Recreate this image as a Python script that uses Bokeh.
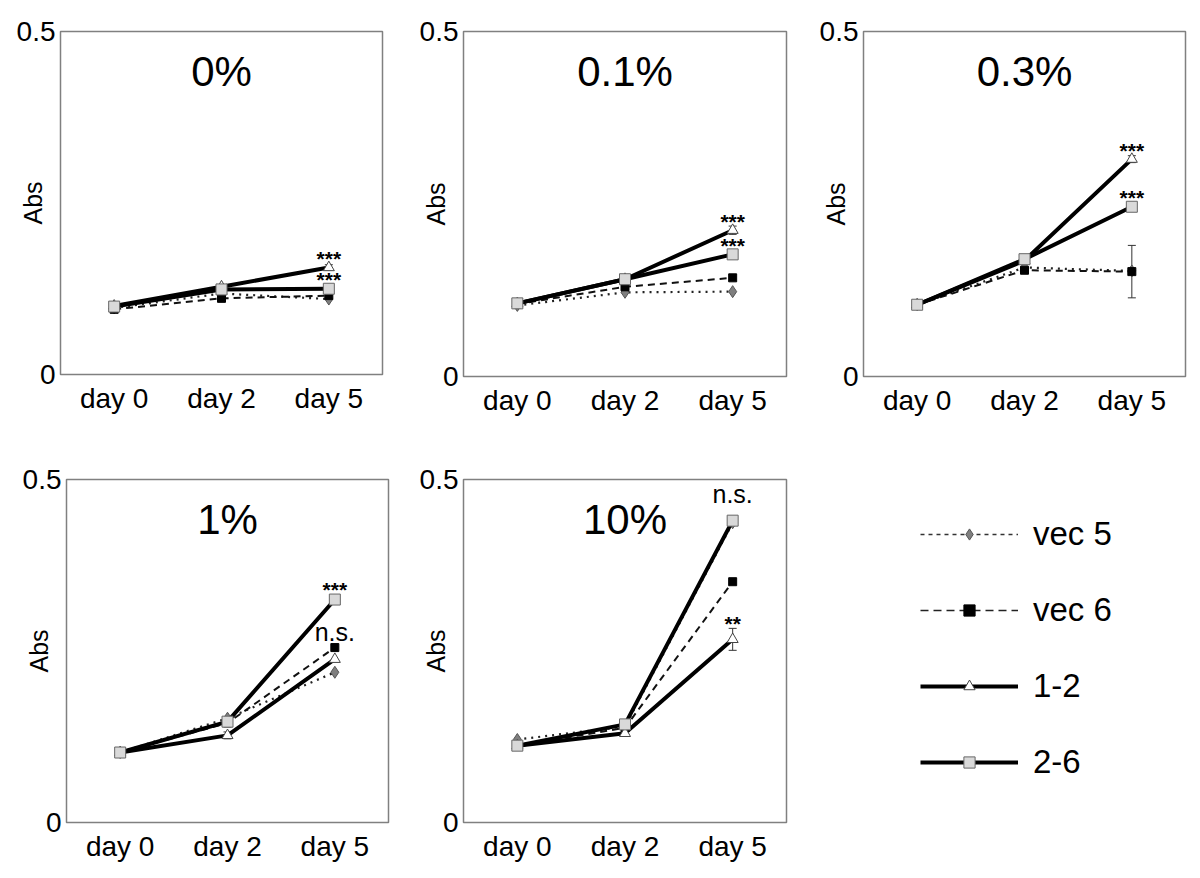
import numpy as np
from bokeh.plotting import figure
from bokeh.models import (FactorRange, Range1d, FixedTicker, Label, ColumnDataSource,
                          Whisker, TeeHead, Legend, LegendItem)
from bokeh.layouts import row, column
from bokeh.embed import file_html
from bokeh.resources import INLINE
from bokeh.core.properties import value

# ---------------- data ----------------
DAYS = ["day 0", "day 2", "day 5"]
PANELS = ["0%", "0.1%", "0.3%", "1%", "10%"]
SERIES = ["vec 5", "vec 6", "1-2", "2-6"]
Y_TICKS = [0, 0.5]
Y_TICK_LABELS = ["0", "0.5"]
Y_LABEL = "Abs"

# values per panel (rows) and day (columns)
VEC5 = [[0.097, 0.118, 0.110],
        [0.103, 0.122, 0.123],
        [0.104, 0.158, 0.153],
        [0.102, 0.152, 0.219],
        [0.121, 0.140, 0.437]]
VEC6 = [[0.095, 0.111, 0.115],
        [0.105, 0.130, 0.143],
        [0.104, 0.154, 0.152],
        [0.102, 0.145, 0.255],
        [0.112, 0.138, 0.351]]
L12 = [[0.100, 0.128, 0.156],
       [0.106, 0.141, 0.212],
       [0.104, 0.168, 0.315],
       [0.102, 0.127, 0.238],
       [0.112, 0.130, 0.267]]
L26 = [[0.099, 0.124, 0.125],
       [0.106, 0.141, 0.177],
       [0.104, 0.170, 0.246],
       [0.102, 0.147, 0.325],
       [0.112, 0.143, 0.440]]

ERR_VEC5 = [[0, 0, 0], [0, 0, 0], [0, 0, 0], [0, 0, 0], [0, 0, 0]]
ERR_VEC6 = [[0, 0, 0], [0, 0, 0], [0, 0, 0.038], [0, 0, 0], [0, 0, 0]]
ERR_L12 = [[0, 0, 0.004], [0, 0, 0.006], [0, 0, 0.005], [0, 0.005, 0], [0, 0, 0.016]]
ERR_L26 = [[0, 0, 0], [0, 0, 0], [0, 0, 0], [0, 0, 0.005], [0, 0, 0]]

# significance labels at day 5: (panel, series, text)
ANNOT_PANEL = [0, 0, 1, 1, 2, 2, 3, 3, 4, 4]
ANNOT_SERIES = ["1-2", "2-6", "1-2", "2-6", "1-2", "2-6", "2-6", "vec 6", "2-6", "1-2"]
ANNOT_TEXT = ["***", "***", "***", "***", "***", "***", "***", "n.s.", "n.s.", "**"]

VALUES = {"vec 5": VEC5, "vec 6": VEC6, "1-2": L12, "2-6": L26}
ERRORS = {"vec 5": ERR_VEC5, "vec 6": ERR_VEC6, "1-2": ERR_L12, "2-6": ERR_L26}

# ---------------- styles ----------------
FONT = "Liberation Sans"
LINE_STYLE = {
    "vec 5": dict(line_color="#222222", line_width=2.2, line_dash="2 5"),
    "vec 6": dict(line_color="#111111", line_width=2, line_dash="7 5"),
    "1-2": dict(line_color="black", line_width=4),
    "2-6": dict(line_color="black", line_width=4),
}
LEG_LINE_STYLE = {
    "vec 5": dict(line_color="#333333", line_width=1.5, line_dash="4 4"),
    "vec 6": dict(line_color="#222222", line_width=1.5, line_dash="8 5"),
    "1-2": dict(line_color="black", line_width=4),
    "2-6": dict(line_color="black", line_width=4),
}
MARKER_STYLE = {
    "vec 5": dict(marker="diamond", size=12, fill_color="#7f7f7f", line_color="#555555", line_width=1),
    "vec 6": dict(marker="square", size=8, fill_color="black", line_color="black", line_width=1),
    "1-2": dict(marker="triangle", size=11, fill_color="white", line_color="#444444", line_width=1),
    "2-6": dict(marker="square", size=11, fill_color="#d9d9d9", line_color="#666666", line_width=1),
}
# figure geometry: borders and frame sizes
GEOM = [
    dict(left=60, right=26, top=31, bottom=66, fw=322, fh=343),
    dict(left=55, right=22, top=29, bottom=66, fw=323, fh=345),
    dict(left=55, right=7, top=29, bottom=66, fw=322, fh=345),
    dict(left=66, right=20, top=39, bottom=48, fw=322, fh=343),
    dict(left=55, right=22, top=35, bottom=52, fw=323, fh=343),
]
ANNOT_DY = [-9, -9, -9, -9, -9, -9, -10, -16, -27, -16]


def make_panel(i):
    g = GEOM[i]
    p = figure(x_range=FactorRange(*DAYS, range_padding=0), y_range=Range1d(0, 0.5),
               frame_width=g["fw"], frame_height=g["fh"],
               min_border_left=g["left"], min_border_right=g["right"],
               min_border_top=g["top"], min_border_bottom=g["bottom"],
               output_backend="svg", toolbar_location=None, title=None)
    p.grid.visible = False
    p.outline_line_color = "#808080"
    p.outline_line_width = 1.5
    p.background_fill_color = "white"
    p.border_fill_color = "white"

    xa = p.xaxis[0]
    xa.axis_line_color = None
    xa.major_tick_line_color = None
    xa.minor_tick_line_color = None
    xa.major_tick_out = 0
    xa.major_tick_in = 0
    xa.major_label_standoff = 8
    xa.major_label_text_font = FONT
    xa.major_label_text_font_size = "28px"
    xa.major_label_text_color = "black"

    ya = p.yaxis[0]
    ya.ticker = FixedTicker(ticks=Y_TICKS)
    ya.major_label_overrides = {t: s for t, s in zip(Y_TICKS, Y_TICK_LABELS)}
    ya.axis_line_color = None
    ya.major_tick_line_color = None
    ya.minor_tick_line_color = None
    ya.major_tick_out = 0
    ya.major_tick_in = 0
    ya.major_label_standoff = 5
    ya.major_label_text_font = FONT
    ya.major_label_text_font_size = "28px"
    ya.major_label_text_color = "black"
    ya.axis_label = Y_LABEL
    ya.axis_label_standoff = -33
    ya.axis_label_text_font = FONT
    ya.axis_label_text_font_size = "25px"
    ya.axis_label_text_font_style = "normal"
    ya.axis_label_text_color = "black"

    for s in SERIES:
        src = ColumnDataSource(dict(x=DAYS, y=VALUES[s][i]))
        p.line("x", "y", source=src, **LINE_STYLE[s])
        errs = ERRORS[s][i]
        idx = [k for k in range(len(DAYS)) if errs[k] > 0]
        if idx:
            wsrc = ColumnDataSource(dict(
                x=[DAYS[k] for k in idx],
                upper=[VALUES[s][i][k] + errs[k] for k in idx],
                lower=[VALUES[s][i][k] - errs[k] for k in idx]))
            w = Whisker(base="x", upper="upper", lower="lower", source=wsrc,
                        line_color="#333333", line_width=1,
                        upper_head=TeeHead(size=8, line_color="#333333", line_width=1),
                        lower_head=TeeHead(size=8, line_color="#333333", line_width=1))
            p.add_layout(w)
        p.scatter("x", "y", source=src, **MARKER_STYLE[s])

    # significance labels
    for k in range(len(ANNOT_TEXT)):
        if ANNOT_PANEL[k] != i:
            continue
        txt = ANNOT_TEXT[k]
        yv = VALUES[ANNOT_SERIES[k]][i][-1]
        star = "*" in txt
        p.text(x=[DAYS[-1]], y=[yv], text=[txt], y_offset=ANNOT_DY[k],
               text_font=value(FONT), text_font_size="21px" if star else "25px",
               text_font_style="bold" if star else "normal",
               text_align="center", text_baseline="alphabetic", text_color="black")

    # panel title
    p.add_layout(Label(x=g["fw"] / 2, y=g["fh"] - 40, x_units="screen", y_units="screen",
                       text=PANELS[i], text_font=FONT, text_font_size="42px",
                       text_align="center", text_baseline="middle", text_color="black"))
    return p


panels = [make_panel(i) for i in range(len(PANELS))]

# legend panel
lp = figure(width=384, height=430, x_range=Range1d(0, 1), y_range=Range1d(0, 1),
            min_border_left=0, min_border_right=0, min_border_top=0, min_border_bottom=0,
            x_axis_location=None, y_axis_location=None,
            output_backend="svg", toolbar_location=None, title=None)
lp.grid.visible = False
lp.outline_line_color = None
items = []
for s in SERIES:
    off = ColumnDataSource(dict(x=[-5, -4], y=[-5, -4]))
    r1 = lp.line("x", "y", source=off, **LEG_LINE_STYLE[s])
    r2 = lp.scatter("x", "y", source=off, **MARKER_STYLE[s])
    items.append(LegendItem(label=s, renderers=[r1, r2]))
legend = Legend(items=items, location=(112, 37), orientation="vertical",
                glyph_width=98, glyph_height=28, label_height=28, spacing=38,
                label_standoff=15, padding=0, margin=0,
                label_text_font=FONT, label_text_font_size="33px", label_text_color="black",
                border_line_color=None, background_fill_alpha=0)
lp.add_layout(legend)

layout = column(row(panels[0], panels[1], panels[2]),
                row(panels[3], panels[4], lp))

open("out.html", "w").write(file_html(layout, INLINE))
